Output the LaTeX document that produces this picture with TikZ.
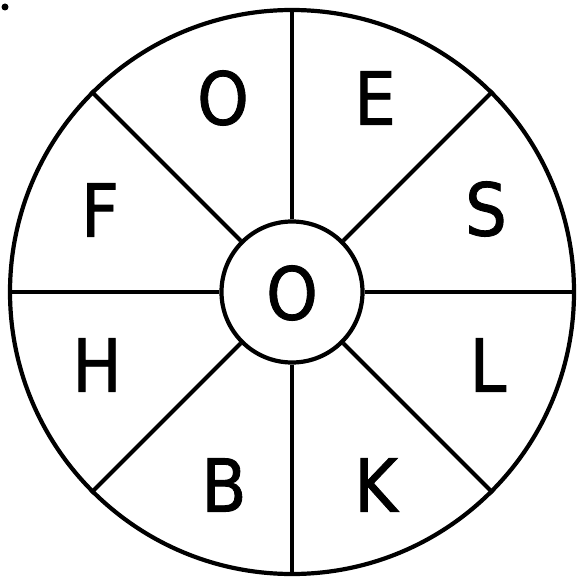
\documentclass[tikz,border=0pt]{standalone}
\usepackage{fontspec}
\setmainfont{DejaVu Sans Condensed}[FakeBold=1.2]
\usetikzlibrary{positioning,calc}

\begin{document}
\begin{tikzpicture}[
        x=1pt, y=1pt,
        every node/.style={font=\fontsize{73}{73}\selectfont, inner sep=0pt},
        ring/.style={draw=black, line width=4.2pt, circle, inner sep=0pt},
        spoke/.style={draw=black, line width=4.2pt}
    ]
        \useasboundingbox (0,0) rectangle (576,-577);

        \node[ring, minimum size=564pt] (wheel) at (292,-292) {};
        \node[ring, minimum size=141pt] (hub) at (wheel.center) {};
        \node (mid) at (292,-293) {O};

        % dot in the corner
        \fill (5,-7) circle (3.5pt);

        % spokes
        \foreach \a in {0,45,...,315}
            \draw[spoke] (hub.\a) -- (wheel.\a);

        % letters
        \node (o) at (223,-98) {O};
        \node (e) at (375,-98) {E};
        \node (s) at (486,-209) {S};
        \node (l) at (488,-365) {L};
        \node (k) at (376,-485) {K};
        \node (b) at (224,-485) {B};
        \node (h) at (97,-365) {H};
        \node (f) at (100,-210) {F};
\end{tikzpicture}
\end{document}
